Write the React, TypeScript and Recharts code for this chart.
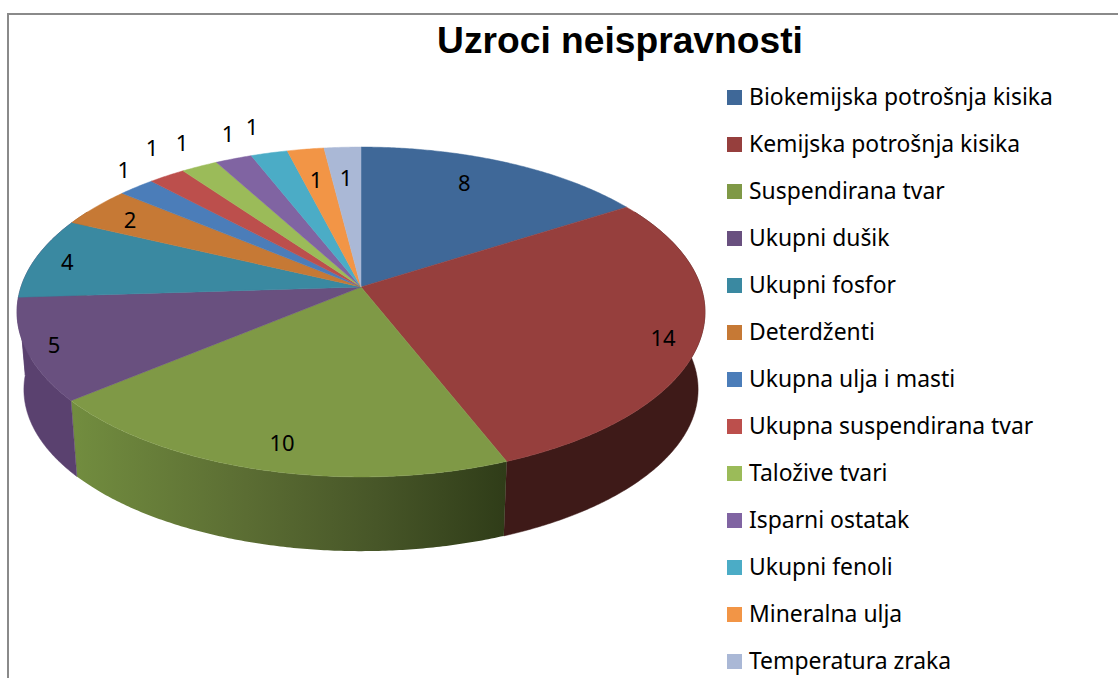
import React from "react";
import { PieChart, Pie, Legend } from "recharts";

const categories = [
  "Biokemijska potrošnja kisika",
  "Kemijska potrošnja kisika",
  "Suspendirana tvar",
  "Ukupni dušik",
  "Ukupni fosfor",
  "Deterdženti",
  "Ukupna ulja i masti",
  "Ukupna suspendirana tvar",
  "Taložive tvari",
  "Isparni ostatak",
  "Ukupni fenoli",
  "Mineralna ulja",
  "Temperatura zraka",
];
const values = [8, 14, 10, 5, 4, 2, 1, 1, 1, 1, 1, 1, 1];
const colors = [
  "#3f6898", "#963f3d", "#7f9946", "#69507f", "#3a89a1", "#c67935", "#4b7db9",
  "#bc4f4c", "#9bbb59", "#8064a2", "#4bacc6", "#f29546", "#aab8d6",
];
// the teal slice's wall only shows as a sliver at the far left, and reads as purple in the original
const wallColors = [
  "#2a4566", "#3e1a18", "url(#greenWall)", "#5a416f", "#5a416f", "#8f5726", "#36598a",
  "#88393a", "#718842", "#5d4976", "#367e91", "#b06c32", "#7c869c",
];
// where Excel left each data label: fraction of the radius, and degrees off the slice middle
const labelRadius = [0.79, 0.9, 0.868, 0.921, 0.899, 0.85, 1.13, 1.218, 1.199, 1.199, 1.227, 0.752, 0.755];
const labelShift = [-3.6, 1.6, -0.9, 0, -0.6, -0.9, 2.9, 4.1, 1.9, 2.8, 0.1, -0.5, -0.1];

const tableData = categories.map((name, i) => ({ name, value: values[i], fill: colors[i], wall: wallColors[i] }));

// perspective of the tilted disc
const TILT = 0.474;
const PERSP = 0.1515;
const DEPTH = 78;
const BOTTOM_SCALE = 0.98;

// theta: clockwise from 12 o'clock, f: fraction of radius
function project(cx: number, cy: number, r: number, theta: number, f = 1) {
  const rad = (theta * Math.PI) / 180;
  const u = f * Math.sin(rad);
  const v = f * Math.cos(rad);
  const s = 1 / (1 + PERSP * v);
  return { x: cx + r * u * s, y: cy - r * TILT * v * s };
}

function arcPoints(cx: number, cy: number, r: number, from: number, to: number) {
  const pts = [];
  const n = Math.max(2, Math.ceil((to - from) * 2));
  for (let i = 0; i <= n; i++) pts.push(project(cx, cy, r, from + ((to - from) * i) / n));
  return pts;
}

const toPath = (pts: { x: number; y: number }[]) =>
  pts.map((p, i) => `${i ? "L" : "M"}${p.x.toFixed(2)} ${p.y.toFixed(2)}`).join("") + "Z";

function TopSlice(props: any) {
  const { cx, cy, outerRadius, startAngle, endAngle, fill } = props;
  const pts = arcPoints(cx, cy, outerRadius, 90 - startAngle, 90 - endAngle);
  return <path d={toPath([{ x: cx, y: cy }, ...pts])} fill={fill} stroke={fill} strokeWidth={0.5} />;
}

function WallSlice(props: any) {
  const { cx, cy, outerRadius, startAngle, endAngle, payload } = props;
  const from = Math.max(90 - startAngle, 60);
  const to = Math.min(90 - endAngle, 300);
  if (to <= from) return <g />;
  const top = arcPoints(cx, cy, outerRadius, from, to);
  const bottom = top
    .map((p) => ({
      x: cx + (p.x - cx) * BOTTOM_SCALE,
      y: cy + (p.y - cy) * BOTTOM_SCALE + DEPTH,
    }))
    .reverse();
  const fill = payload.wall;
  return <path d={toPath([...top, ...bottom])} fill={fill} stroke={fill.startsWith("url") ? "none" : fill} strokeWidth={0.5} />;
}

function renderLabel(props: any) {
  const { cx, cy, outerRadius, midAngle, index } = props;
  const p = project(cx, cy, outerRadius, 90 - midAngle + labelShift[index], labelRadius[index]);
  return (
    <text
      x={p.x}
      y={p.y - 1}
      textAnchor="middle"
      dominantBaseline="central"
      fontFamily="'Noto Sans', sans-serif"
      fontSize={22}
      fill="#000"
    >
      {values[index]}
    </text>
  );
}

function LegendList({ payload }: any) {
  const rows = (payload || []).filter((entry: any) => entry.type !== "none");
  return (
    <div>
      {rows.map((entry: any, i: number) => (
        <div
          key={entry.value}
          style={{
            display: "flex",
            alignItems: "center",
            height: 47,
            fontFamily: "'Noto Sans', sans-serif",
            fontSize: 22.9,
            color: "#000",
            whiteSpace: "nowrap",
          }}
        >
          <span style={{ width: 15, height: 15, marginRight: 7, background: entry.color || colors[i] }} />
          <span style={{ position: "relative", top: -1 }}>{entry.value}</span>
        </div>
      ))}
    </div>
  );
}

export default function App() {
  return (
    <div style={{ position: "fixed", left: 0, top: 0, width: 1118, height: 678, overflow: "hidden", background: "#fff" }}>
      <div
        style={{
          position: "absolute",
          left: 7,
          top: 13,
          width: 1120,
          height: 700,
          borderTop: "2px solid #8a8a8a",
          borderLeft: "2px solid #8a8a8a",
        }}
      />
      <div
        style={{
          position: "absolute",
          left: 320,
          width: 600,
          top: 19,
          textAlign: "center",
          fontFamily: "'Liberation Sans', Arial, sans-serif",
          fontWeight: 700,
          fontSize: 37.2,
          color: "#000",
        }}
      >
        Uzroci neispravnosti
      </div>
      <div style={{ position: "absolute", left: 0, top: 0 }}>
        <PieChart width={1118} height={678} margin={{ top: 0, right: 0, bottom: 0, left: 0 }}>
          <defs>
            <linearGradient id="greenWall" gradientUnits="userSpaceOnUse" x1={72} y1={0} x2={507} y2={0}>
              <stop offset="0" stopColor="#728d3f" />
              <stop offset="0.4" stopColor="#5b6d33" />
              <stop offset="0.7" stopColor="#475628" />
              <stop offset="1" stopColor="#2f3c18" />
            </linearGradient>
          </defs>
          <Pie
            data={tableData}
            dataKey="value"
            nameKey="name"
            cx={361}
            cy={287}
            outerRadius={340}
            startAngle={90}
            endAngle={-270}
            legendType="none"
            shape={WallSlice}
            isAnimationActive={false}
          />
          <Pie
            data={tableData}
            dataKey="value"
            nameKey="name"
            cx={361}
            cy={287}
            outerRadius={340}
            startAngle={90}
            endAngle={-270}
            shape={TopSlice}
            label={renderLabel}
            labelLine={false}
            isAnimationActive={false}
          />
          <Legend
            layout="vertical"
            align="right"
            verticalAlign="top"
            itemSorter={null}
            content={<LegendList />}
            wrapperStyle={{ left: 727, top: 74, width: 380 }}
          />
        </PieChart>
      </div>
    </div>
  );
}
